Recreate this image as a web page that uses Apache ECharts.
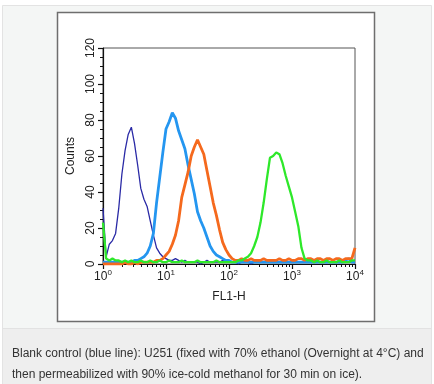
<!DOCTYPE html>
<html>
<head>
<meta charset="utf-8">
<script src="https://cdn.jsdelivr.net/npm/echarts@6/dist/echarts.min.js"></script>
<style>
html,body{margin:0;padding:0;background:#ffffff;}
#chart{width:434px;height:384px;}
</style>
</head>
<body>
<div id="chart"></div>
<script>
// FL1-H channel positions (log-spaced bins, 1 .. 10^4)
var fl1Bins = [
  1, 1.122, 1.259, 1.413, 1.585, 1.778, 1.995, 2.239, 2.512, 2.818,
  3.162, 3.548, 3.981, 4.467, 5.012, 5.623, 6.310, 7.079, 7.943, 8.913,
  10, 11.22, 12.59, 14.13, 15.85, 17.78, 19.95, 22.39, 25.12, 28.18,
  31.62, 35.48, 39.81, 44.67, 50.12, 56.23, 63.10, 70.79, 79.43, 89.13,
  100, 112.2, 125.9, 141.3, 158.5, 177.8, 199.5, 223.9, 251.2, 281.8,
  316.2, 354.8, 398.1, 446.7, 501.2, 562.3, 631.0, 707.9, 794.3, 891.3,
  1000, 1122, 1259, 1413, 1585, 1778, 1995, 2239, 2512, 2818,
  3162, 3548, 3981, 4467, 5012, 5623, 6310, 7079, 7943, 8913,
  10000
];
// Counts per bin
var blankControl = [
  31, 4, 11, 13, 17, 31, 50, 63, 72, 76,
  67, 55, 42, 36, 32, 24, 16, 9, 6, 4,
  3, 2, 2, 3, 2, 1, 2, 1, 1, 1,
  1, 0, 1, 2, 1, 1, 1, 1, 2, 1,
  1, 1, 1, 0, 1, 1, 1, 0, 1, 1,
  1, 1, 1, 1, 1, 1, 1, 1, 1, 1,
  1, 1, 1, 1, 1, 1, 1, 1, 1, 1,
  1, 1, 1, 1, 1, 1, 1, 1, 1, 1,
  1
];
var sampleBlue = [
  1, 1, 1, 1, 1, 1, 1, 1, 1, 1,
  2, 2, 3, 4, 6, 10, 17, 34, 48, 62,
  75, 79, 84, 81, 74, 69, 64, 55, 47, 39,
  29, 24, 20, 15, 10, 7, 5, 4, 3, 2,
  2, 1, 1, 1, 1, 1, 1, 1, 1, 1,
  1, 1, 1, 1, 1, 1, 1, 1, 1, 1,
  1, 1, 1, 1, 1, 1, 1, 1, 1, 1,
  1, 1, 1, 1, 1, 1, 1, 2, 3, 1,
  1
];
var sampleOrange = [
  0, 0, 0, 0, 0, 0, 0, 1, 0, 0,
  1, 0, 1, 1, 1, 1, 1, 2, 2, 3,
  5, 7, 11, 16, 24, 37, 44, 51, 60, 65,
  69, 65, 61, 52, 43, 34, 27, 19, 12, 8,
  5, 3, 2, 2, 3, 2, 2, 3, 2, 2,
  2, 3, 2, 2, 2, 2, 3, 2, 2, 3,
  2, 2, 3, 3, 2, 3, 3, 2, 3, 3,
  2, 3, 3, 2, 3, 3, 2, 3, 3, 3,
  9
];
var sampleGreen = [
  23, 3, 2, 3, 2, 2, 1, 2, 1, 2,
  1, 1, 2, 1, 1, 2, 1, 1, 2, 1,
  1, 2, 1, 1, 1, 2, 1, 1, 1, 1,
  2, 1, 1, 1, 1, 1, 2, 1, 1, 1,
  1, 1, 1, 2, 2, 3, 4, 6, 10, 15,
  23, 34, 47, 59, 60, 62, 61, 56, 49, 43,
  37, 29, 21, 9, 3, 2, 2, 1, 2, 1,
  1, 2, 1, 1, 1, 2, 1, 1, 1, 2,
  2
];
var xMajorTicks = [1, 10, 100, 1000, 10000];
var xTickExponents = ['0', '1', '2', '3', '4'];
var xMinorTicks = [2,3,4,5,6,7,8,9,20,30,40,50,60,70,80,90,200,300,400,500,600,700,800,900,2000,3000,4000,5000,6000,7000,8000,9000];
var yTicks = [0, 20, 40, 60, 80, 100, 120];
var captionLines = [
  'Blank control (blue line): U251 (fixed with 70% ethanol (Overnight at 4\u00B0C) and',
  'then permeabilized with 90% ice-cold methanol for 30 min on ice).'
];

function pairs(ys) {
  return fl1Bins.map(function (x, i) { return [x, ys[i]]; });
}

var chart = echarts.init(document.getElementById('chart'), null, {renderer: 'canvas'});
var font = 'Liberation Sans, Arial, Helvetica, sans-serif';

var option = {
  animation: false,
  backgroundColor: '#ffffff',
  graphic: [
    {type: 'rect', z: -10, shape: {x: 2.5, y: 5.5, width: 429, height: 380}, style: {fill: '#f4f6f5', stroke: '#e3e3e3', lineWidth: 1}},
    {type: 'rect', z: -9, shape: {x: 3, y: 328, width: 428, height: 56}, style: {fill: '#eeeeee', stroke: null}},
    {type: 'line', z: -9, shape: {x1: 3, y1: 328.5, x2: 431, y2: 328.5}, style: {stroke: '#e2e2e2', lineWidth: 1}},
    {type: 'rect', z: -8, shape: {x: 57.5, y: 12.5, width: 317, height: 309}, style: {fill: '#ffffff', stroke: '#6e6e6e', lineWidth: 1.5}},
    {type: 'text', z: 10, left: 12, top: 348, style: {text: captionLines[0], font: '12px ' + font, fill: '#333333'}},
    {type: 'text', z: 10, left: 12, top: 369, style: {text: captionLines[1], font: '12px ' + font, fill: '#333333'}}
  ],
  grid: {left: 103, top: 48, right: 79, bottom: 120, show: true, borderColor: '#555555', borderWidth: 1, backgroundColor: 'transparent', outerBoundsMode: 'none'},
  xAxis: [
    {
      type: 'log', logBase: 10, min: 1, max: 10000,
      name: 'FL1-H', nameLocation: 'middle', nameGap: 27,
      nameTextStyle: {fontFamily: font, fontSize: 12, color: '#222'},
      axisLine: {show: true, onZero: false, lineStyle: {color: '#111', width: 1.2}},
      axisTick: {show: true, length: 5, customValues: xMajorTicks, lineStyle: {color: '#111', width: 1.2}},
      minorTick: {show: false},
      splitLine: {show: false},
      axisLabel: {
        customValues: xMajorTicks, margin: 5,
        formatter: function (v) {
          var i = xMajorTicks.indexOf(v);
          return '{b|10}{s|' + xTickExponents[i] + '}';
        },
        rich: {
          b: {fontFamily: font, fontSize: 12, color: '#222', verticalAlign: 'bottom', lineHeight: 14},
          s: {fontFamily: font, fontSize: 8, color: '#222', verticalAlign: 'top', padding: [0, 0, 6, 0], lineHeight: 14}
        }
      }
    },
    {
      type: 'log', logBase: 10, min: 1, max: 10000, position: 'bottom',
      axisLine: {show: false},
      axisTick: {show: true, length: 3, customValues: xMinorTicks, lineStyle: {color: '#111', width: 1}},
      axisLabel: {show: false},
      splitLine: {show: false}
    }
  ],
  yAxis: {
    type: 'value', min: 0, max: 120, interval: 20,
    name: 'Counts', nameLocation: 'middle', nameGap: 26, nameRotate: 90,
    nameTextStyle: {fontFamily: font, fontSize: 12, color: '#222'},
    axisLine: {show: true, lineStyle: {color: '#111', width: 1.2}},
    axisTick: {show: true, length: 5, lineStyle: {color: '#111', width: 1.2}},
    minorTick: {show: true, splitNumber: 4, length: 3, lineStyle: {color: '#111', width: 1}},
    splitLine: {show: false},
    axisLabel: {
      rotate: 90, margin: 6, fontFamily: font, fontSize: 12, color: '#222',
      formatter: function (v) { return yTicks.indexOf(v) >= 0 ? String(v) : ''; }
    }
  },
  series: [
    {type: 'line', name: 'blank', data: pairs(blankControl), showSymbol: false, lineStyle: {color: '#2a2aa6', width: 1.3}, z: 2},
    {type: 'line', name: 'blue', data: pairs(sampleBlue), showSymbol: false, lineStyle: {color: '#2496f0', width: 2.8}, z: 3},
    {type: 'line', name: 'orange', data: pairs(sampleOrange), showSymbol: false, lineStyle: {color: '#f5691d', width: 2.8}, z: 4},
    {type: 'line', name: 'green', data: pairs(sampleGreen), showSymbol: false, lineStyle: {color: '#2ee82a', width: 2.3}, z: 5}
  ]
};
chart.setOption(option);
</script>
</body>
</html>
